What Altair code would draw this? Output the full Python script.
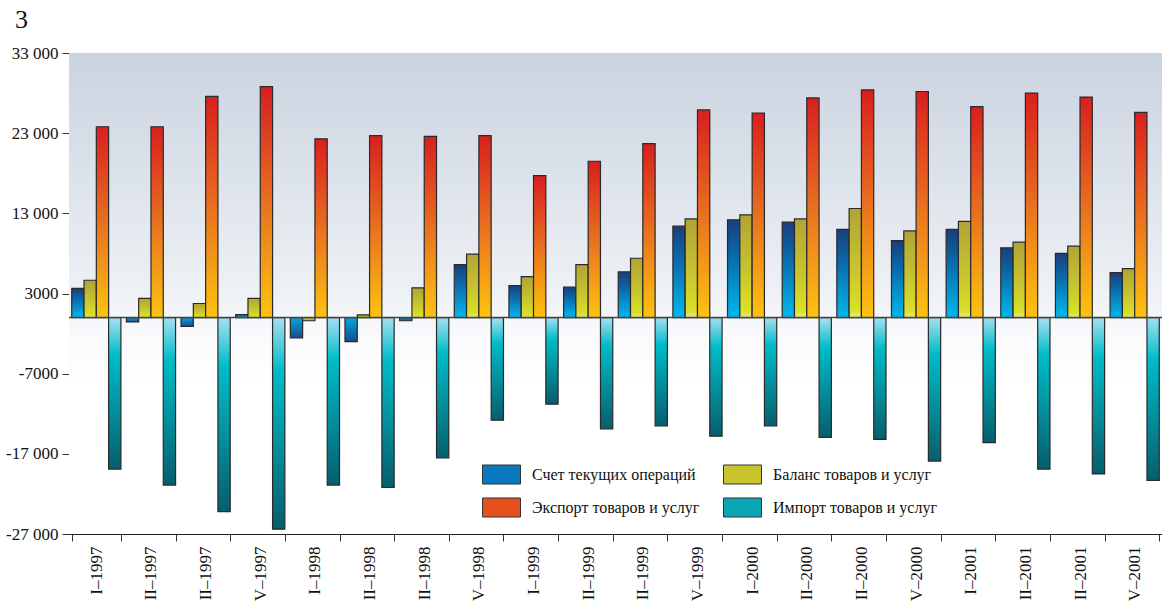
import altair as alt
import pandas as pd

quarters = ["I–1997", "II–1997", "III–1997", "IV–1997",
            "I–1998", "II–1998", "III–1998", "IV–1998",
            "I–1999", "II–1999", "III–1999", "IV–1999",
            "I–2000", "II–2000", "III–2000", "IV–2000",
            "I–2001", "II–2001", "III–2001", "IV–2001"]

series_names = ["Счет текущих операций", "Баланс товаров и услуг",
                "Экспорт товаров и услуг", "Импорт товаров и услуг"]
# legend fills column by column: this order gives the 2 x 2 layout of the reference
legend_order = ["Счет текущих операций", "Экспорт товаров и услуг",
                "Баланс товаров и услуг", "Импорт товаров и услуг"]

current_account = [3650, -550, -1100, 380, -2550, -3000, -400, 6600, 4000, 3800,
                   5700, 11400, 12200, 11900, 11000, 9600, 11000, 8700, 8000, 5600]
trade_balance = [4650, 2400, 1750, 2400, -400, 330, 3700, 7900, 5100, 6600,
                 7400, 12300, 12800, 12300, 13600, 10800, 12000, 9400, 8900, 6100]
exports = [23800, 23800, 27600, 28800, 22300, 22700, 22600, 22700, 17700, 19500,
           21700, 25900, 25500, 27400, 28400, 28200, 26300, 28000, 27500, 25600]
imports = [-18900, -20900, -24200, -26400, -20900, -21200, -17500, -12800, -10800, -13900,
           -13500, -14800, -13500, -14950, -15200, -17900, -15600, -18900, -19500, -20300]

legend_colors = ["#0a78bf", "#e5501c", "#c9c52e", "#0aa6b3"]
y_ticks = [-27000, -17000, -7000, 3000, 13000, 23000, 33000]

rows = []
for name, vals in zip(series_names, [current_account, trade_balance, exports, imports]):
    for q, v in zip(quarters, vals):
        rows.append({"quarter": q, "series": name, "value": v,
                     "sign": "pos" if v >= 0 else "neg"})
df = pd.DataFrame(rows)

FONT = "Liberation Serif"


def grad(stops):
    return alt.Gradient(
        gradient="linear", x1=0, x2=0, y1=0, y2=1,
        stops=[alt.GradientStop(offset=o, color=c) for o, c in stops])


gradients = {
    (series_names[0], "pos"): grad([(0, "#1a3f7a"), (0.35, "#0b67a8"), (1, "#00b8ee")]),
    (series_names[0], "neg"): grad([(0, "#06a6de"), (1, "#184c8c")]),
    (series_names[1], "pos"): grad([(0, "#b1a436"), (0.55, "#c8c42e"), (0.93, "#dbe026"), (1, "#e8ea8c")]),
    (series_names[1], "neg"): grad([(0, "#dbe026"), (1, "#b1a436")]),
    (series_names[2], "pos"): grad([(0, "#d91f1f"), (0.5, "#e8701f"), (1, "#fdc310")]),
    (series_names[3], "neg"): grad([(0, "#a6e0f0"), (0.25, "#00bcc9"), (1, "#065e6d")]),
}

x_enc = alt.X("quarter:N", sort=quarters, title=None,
              scale=alt.Scale(paddingInner=0.1, paddingOuter=0.05),
              axis=alt.Axis(labelAngle=270, tickBand="extent", labelFontSize=17,
                            labelFont=FONT, labelColor="#111", tickSize=7,
                            tickColor="#333", domainColor="#222", labelPadding=5))
xo_enc = alt.XOffset("series:N", sort=series_names,
                     scale=alt.Scale(domain=series_names, paddingInner=0, paddingOuter=0))
y_enc = alt.Y("value:Q", title=None,
              scale=alt.Scale(domain=[-27000, 33000], nice=False, zero=False),
              axis=alt.Axis(values=y_ticks, grid=False, labelFontSize=17, labelFont=FONT,
                            labelColor="#111", tickSize=7, tickColor="#333",
                            domainColor="#222", labelPadding=4,
                            labelExpr="(datum.value < 0 ? '-' : '') + (abs(datum.value) >= 10000 ? floor(abs(datum.value) / 1000) + ' 000' : '' + abs(datum.value))"))

background = alt.Chart(pd.DataFrame({"k": [0]})).mark_rect(
    color=grad([(0, "#cad3e0"), (0.5, "#eef1f5"), (0.6, "#fbfbfd"), (0.7, "#ffffff"), (1, "#ffffff")])
).encode(x=alt.value(0), x2=alt.value("width"), y=alt.value(0), y2=alt.value("height"))

bar_layers = []
for (name, sign), g in gradients.items():
    layer = alt.Chart(df).transform_filter(
        (alt.datum.series == name) & (alt.datum.sign == sign)
    ).mark_bar(color=g, stroke="#2a2a2a", strokeWidth=1.2).encode(
        x=x_enc, xOffset=xo_enc, y=y_enc)
    bar_layers.append(layer)

zero_line = alt.Chart(pd.DataFrame({"k": [0]})).mark_rule(
    color="#444", strokeWidth=1.5).encode(y=alt.datum(0))

legend_layer = alt.Chart(pd.DataFrame({"series": series_names})).mark_square(
    opacity=0, size=1).encode(
    color=alt.Color("series:N", sort=legend_order,
                    scale=alt.Scale(domain=legend_order, range=legend_colors),
                    legend=alt.Legend(
                        title=None, orient="none", legendX=413, legendY=402,
                        columns=2, columnPadding=21, rowPadding=2,
                        symbolType="M-1,-0.5H1V0.5H-1Z", symbolSize=1444,
                        symbolOpacity=1, symbolStrokeColor="#333",
                        symbolStrokeWidth=1, labelFont=FONT, labelFontSize=16,
                        labelColor="#111", labelOffset=11, labelLimit=300)))

chart = alt.layer(background, *bar_layers, zero_line, legend_layer).properties(
    width=1093, height=481,
    title=alt.Title("3", anchor="start", frame="group", dx=-54, offset=11, fontSize=26,
                    font=FONT, fontWeight="normal", color="#111"),
    autosize=alt.AutoSizeParams(type="none"),
    padding={"left": 69, "top": 53, "right": 0, "bottom": 67},
).configure_view(stroke="#222", strokeWidth=1).configure(background="white")

chart.save("out.html", embed_options={"renderer": "svg", "actions": False})
